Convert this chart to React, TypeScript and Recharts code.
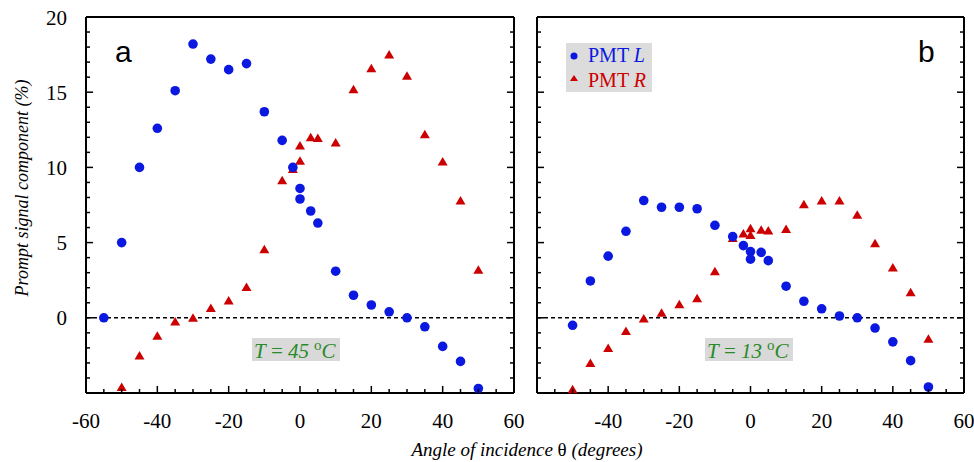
import React from 'react';
import { ScatterChart, Scatter, XAxis, YAxis, ReferenceLine } from 'recharts';

const W = 974;
const H = 462;

// panel a: T = 45 °C
const angleA_L = [-55, -50, -45, -40, -35, -30, -25, -20, -15, -10, -5, -2, 0, 0, 3, 5, 10, 15, 20, 25, 30, 35, 40, 45, 50];
const valueA_L = [0, 5, 10, 12.6, 15.1, 18.2, 17.2, 16.5, 16.9, 13.7, 11.8, 10, 8.6, 7.9, 7.1, 6.3, 3.1, 1.5, 0.85, 0.4, 0, -0.6, -1.9, -2.9, -4.7];
const angleA_R = [-50, -45, -40, -35, -30, -25, -20, -15, -10, -5, -2, 0, 0, 3, 5, 10, 15, 20, 25, 30, 35, 40, 45, 50];
const valueA_R = [-4.6, -2.5, -1.2, -0.25, 0, 0.65, 1.15, 2.05, 4.55, 9.15, 9.9, 10.45, 11.45, 12.0, 11.95, 11.65, 15.2, 16.6, 17.5, 16.1, 12.2, 10.4, 7.8, 3.2];

// panel b: T = 13 °C
const angleB_L = [-50, -45, -40, -35, -30, -25, -20, -15, -10, -5, -2, 0, 0, 3, 5, 10, 15, 20, 25, 30, 35, 40, 45, 50];
const valueB_L = [-0.5, 2.45, 4.1, 5.75, 7.8, 7.35, 7.35, 7.25, 6.15, 5.4, 4.8, 4.4, 3.9, 4.35, 3.8, 2.1, 1.1, 0.6, 0.12, 0, -0.68, -1.6, -2.85, -4.6];
const angleB_R = [-50, -45, -40, -35, -30, -25, -20, -15, -10, -5, -2, 0, 0, 3, 5, 10, 15, 20, 25, 30, 35, 40, 45, 50];
const valueB_R = [-4.75, -3.0, -2.0, -0.87, -0.05, 0.33, 0.9, 1.3, 3.1, 5.3, 5.6, 5.95, 5.5, 5.85, 5.8, 5.9, 7.55, 7.8, 7.8, 6.85, 4.95, 3.35, 1.7, -1.4];

const xTicks = [-60, -55, -50, -45, -40, -35, -30, -25, -20, -15, -10, -5, 0, 5, 10, 15, 20, 25, 30, 35, 40, 45, 50, 55, 60];
const yTicks = [-5, -4, -3, -2, -1, 0, 1, 2, 3, 4, 5, 6, 7, 8, 9, 10, 11, 12, 13, 14, 15, 16, 17, 18, 19, 20];
const xLabelsA = [-60, -40, -20, 0, 20, 40, 60];
const xLabelsB = [-40, -20, 0, 20, 40, 60];
const yLabels = [0, 5, 10, 15, 20];

const BLUE = '#0a18e0';
const RED = '#cc0000';
const GREEN = '#2a8a2a';
const serif = '"Liberation Serif", "Times New Roman", serif';
const sans = '"Liberation Sans", Arial, sans-serif';

const toPoints = (xs: number[], ys: number[]) => xs.map((x, i) => ({ x, y: ys[i] }));

type Side = 'bottom' | 'top' | 'left' | 'right';

const tickText = { fontFamily: serif, fontSize: 21, fill: '#000' };

// inward ticks drawn by hand so majors and minors can share one axis
function makeTick(side: Side, labels: number[], majorStep: number) {
  return (p: any) => {
    const v = p.payload.value;
    const major = v % majorStep === 0;
    const len = major ? 7 : 4;
    const { x, y } = p;
    const lineProps = { stroke: '#000', strokeWidth: 1.5 };
    let line;
    if (side === 'bottom') line = <line x1={x} y1={y} x2={x} y2={y - len} {...lineProps} />;
    else if (side === 'top') line = <line x1={x} y1={y} x2={x} y2={y + len} {...lineProps} />;
    else if (side === 'left') line = <line x1={x} y1={y} x2={x + len} y2={y} {...lineProps} />;
    else line = <line x1={x} y1={y} x2={x - len} y2={y} {...lineProps} />;
    let label = null;
    if (labels.includes(v)) {
      if (side === 'bottom') {
        label = (
          <text x={x} y={y + 35} textAnchor="middle" style={tickText}>
            {v}
          </text>
        );
      } else if (side === 'left') {
        label = (
          <text x={x - 19} y={y + 7.5} textAnchor="end" style={tickText}>
            {v}
          </text>
        );
      }
    }
    return (
      <g>
        {line}
        {label}
      </g>
    );
  };
}

const triangle = (color: string) => (p: any) => (
  <polygon
    points={`${p.cx},${p.cy - 4.5} ${p.cx - 5},${p.cy + 4} ${p.cx + 5},${p.cy + 4}`}
    fill={color}
  />
);
const dot = (color: string) => (p: any) => <circle cx={p.cx} cy={p.cy} r={4.8} fill={color} />;

interface PanelProps {
  left: number;
  right: number;
  xLabels: number[];
  yLabelList: number[];
  dataL: { x: number; y: number }[];
  dataR: { x: number; y: number }[];
}

function Panel({ left, right, xLabels, yLabelList, dataL, dataR }: PanelProps) {
  const axisLine = { stroke: '#000', strokeWidth: 2 };
  return (
    <div style={{ position: 'absolute', left: 0, top: 0 }}>
      <ScatterChart width={W} height={H} margin={{ top: 16, left: left - 1, right: W - right - 1, bottom: 68 }}>
        <XAxis
          xAxisId="b"
          orientation="bottom"
          type="number"
          dataKey="x"
          domain={[-60, 60]}
          ticks={xTicks}
          interval={0}
          height={1}
          tickSize={0}
          tickMargin={0}
          tickLine={false}
          axisLine={axisLine}
          tick={makeTick('bottom', xLabels, 20)}
        />
        <XAxis
          xAxisId="t"
          orientation="top"
          type="number"
          domain={[-60, 60]}
          allowDataOverflow
          ticks={xTicks}
          interval={0}
          height={1}
          tickSize={0}
          tickMargin={0}
          tickLine={false}
          axisLine={axisLine}
          tick={makeTick('top', [], 20)}
        />
        <YAxis
          yAxisId="l"
          orientation="left"
          type="number"
          dataKey="y"
          domain={[-5, 20]}
          ticks={yTicks}
          interval={0}
          width={1}
          tickSize={0}
          tickMargin={0}
          tickLine={false}
          axisLine={axisLine}
          tick={makeTick('left', yLabelList, 5)}
        />
        <YAxis
          yAxisId="r"
          orientation="right"
          type="number"
          domain={[-5, 20]}
          allowDataOverflow
          ticks={yTicks}
          interval={0}
          width={1}
          tickSize={0}
          tickMargin={0}
          tickLine={false}
          axisLine={axisLine}
          tick={makeTick('right', [], 5)}
        />
        <ReferenceLine xAxisId="b" yAxisId="l" y={0} stroke="#000" strokeWidth={1.5} strokeDasharray="4 3" />
        <Scatter xAxisId="b" yAxisId="l" data={dataR} shape={triangle(RED)} isAnimationActive={false} />
        <Scatter xAxisId="b" yAxisId="l" data={dataL} shape={dot(BLUE)} isAnimationActive={false} />
      </ScatterChart>
    </div>
  );
}

function TempBox({ x, label }: { x: number; label: string }) {
  return (
    <g>
      <rect x={x} y={338} width={88} height={23} fill="#d9d9d9" />
      <text x={x + 2} y={358} style={{ fontFamily: serif, fontSize: 21, fill: GREEN }}>
        <tspan fontStyle="italic">T</tspan>
        <tspan> = </tspan>
        <tspan fontStyle="italic">{label}</tspan>
        <tspan dx={5} dy={-8} style={{ fontSize: 15 }}>o</tspan>
        <tspan dy={8} fontStyle="italic">C</tspan>
      </text>
    </g>
  );
}

export default function App() {
  return (
    <div style={{ position: 'absolute', left: 0, top: 0, width: W, height: H, background: '#fff' }}>
      <Panel
        left={86}
        right={514}
        xLabels={xLabelsA}
        yLabelList={yLabels}
        dataL={toPoints(angleA_L, valueA_L)}
        dataR={toPoints(angleA_R, valueA_R)}
      />
      <Panel
        left={537}
        right={964}
        xLabels={xLabelsB}
        yLabelList={[]}
        dataL={toPoints(angleB_L, valueB_L)}
        dataR={toPoints(angleB_R, valueB_R)}
      />
      <svg width={W} height={H} style={{ position: 'absolute', left: 0, top: 0, pointerEvents: 'none' }}>
        <text x={115} y={62} style={{ fontFamily: sans, fontSize: 30, fill: '#000' }}>a</text>
        <text x={918} y={62} style={{ fontFamily: sans, fontSize: 30, fill: '#000' }}>b</text>
        <text
          transform="translate(28,188) rotate(-90)"
          textAnchor="middle"
          style={{ fontFamily: serif, fontStyle: 'italic', fontSize: 18, fill: '#000' }}
        >
          Prompt signal component (%)
        </text>
        <text
          x={527}
          y={456}
          textAnchor="middle"
          style={{ fontFamily: serif, fontStyle: 'italic', fontSize: 19, fill: '#000' }}
        >
          Angle of incidence <tspan style={{ fontStyle: 'normal' }}>θ</tspan> (degrees)
        </text>
        <rect x={566} y={43} width={86} height={49} fill="#dcdcdc" />
        <circle cx={574} cy={56} r={3.5} fill={BLUE} />
        <text x={588} y={62} style={{ fontFamily: serif, fontSize: 20, fill: BLUE }}>
          PMT <tspan style={{ fontStyle: 'italic' }}>L</tspan>
        </text>
        <polygon points="574,75 570,81 578,81" fill={RED} />
        <text x={588} y={87} style={{ fontFamily: serif, fontSize: 20, fill: RED }}>
          PMT <tspan style={{ fontStyle: 'italic' }}>R</tspan>
        </text>
        <TempBox x={252} label="45" />
        <TempBox x={705} label="13" />
      </svg>
    </div>
  );
}
